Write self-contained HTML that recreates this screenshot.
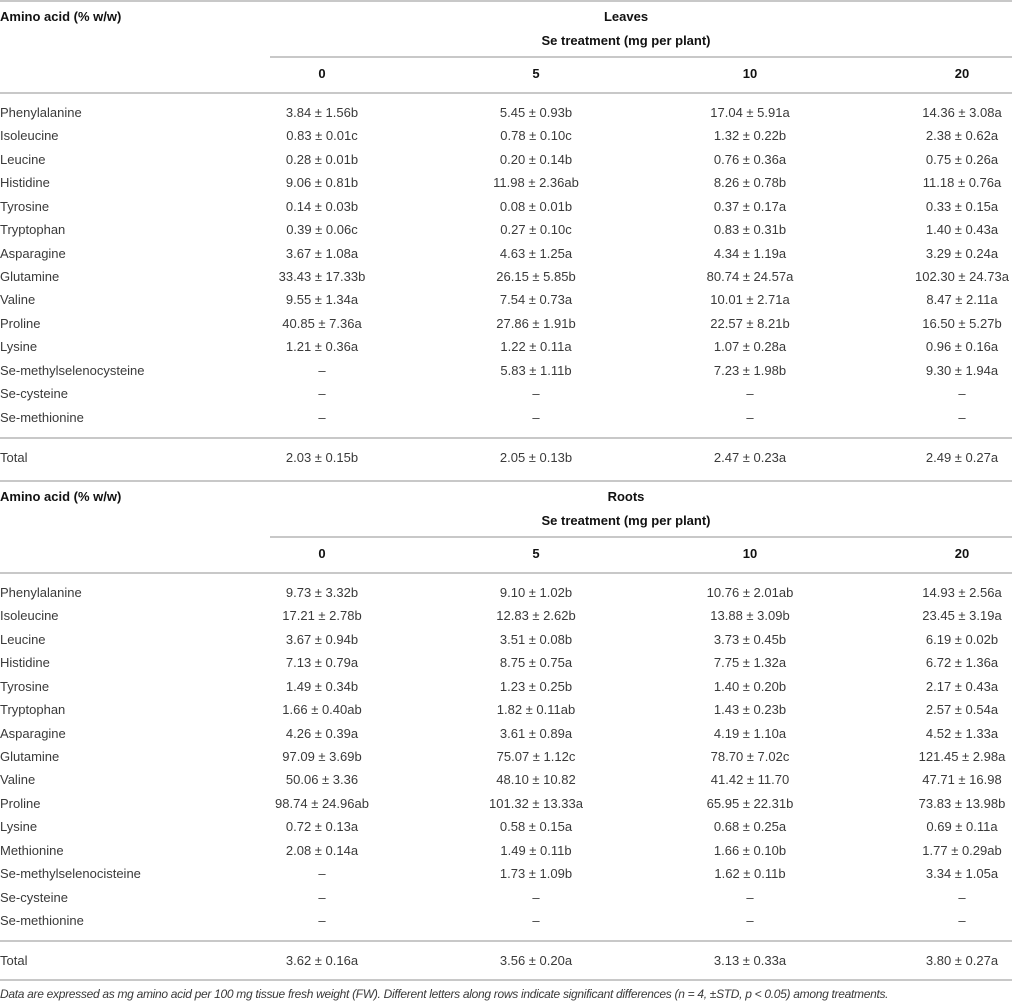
<!DOCTYPE html>
<html><head><meta charset="utf-8"><style>
body{margin:0;background:#fff;}
#t{position:relative;width:1012px;height:1003px;overflow:hidden;font-family:"Liberation Sans",sans-serif;font-size:13px;color:#3a3a3a;}
.x{position:absolute;white-space:nowrap;line-height:16px;}
.b{font-weight:bold;color:#111;}
.c{transform:translateX(-50%);}
.ln{position:absolute;height:2px;background:#c8c8c8;}
.fn{font-style:italic;font-size:12px;letter-spacing:-0.3px;}
</style></head><body>
<div id="t"></div>
<script>
const colHeaders=["0","5","10","20"];
const leavesRows=["Phenylalanine","Isoleucine","Leucine","Histidine","Tyrosine","Tryptophan","Asparagine","Glutamine","Valine","Proline","Lysine","Se-methylselenocysteine","Se-cysteine","Se-methionine"];
const leaves0=["3.84 ± 1.56b","0.83 ± 0.01c","0.28 ± 0.01b","9.06 ± 0.81b","0.14 ± 0.03b","0.39 ± 0.06c","3.67 ± 1.08a","33.43 ± 17.33b","9.55 ± 1.34a","40.85 ± 7.36a","1.21 ± 0.36a","–","–","–"];
const leaves5=["5.45 ± 0.93b","0.78 ± 0.10c","0.20 ± 0.14b","11.98 ± 2.36ab","0.08 ± 0.01b","0.27 ± 0.10c","4.63 ± 1.25a","26.15 ± 5.85b","7.54 ± 0.73a","27.86 ± 1.91b","1.22 ± 0.11a","5.83 ± 1.11b","–","–"];
const leaves10=["17.04 ± 5.91a","1.32 ± 0.22b","0.76 ± 0.36a","8.26 ± 0.78b","0.37 ± 0.17a","0.83 ± 0.31b","4.34 ± 1.19a","80.74 ± 24.57a","10.01 ± 2.71a","22.57 ± 8.21b","1.07 ± 0.28a","7.23 ± 1.98b","–","–"];
const leaves20=["14.36 ± 3.08a","2.38 ± 0.62a","0.75 ± 0.26a","11.18 ± 0.76a","0.33 ± 0.15a","1.40 ± 0.43a","3.29 ± 0.24a","102.30 ± 24.73a","8.47 ± 2.11a","16.50 ± 5.27b","0.96 ± 0.16a","9.30 ± 1.94a","–","–"];
const leavesTotal=["2.03 ± 0.15b","2.05 ± 0.13b","2.47 ± 0.23a","2.49 ± 0.27a"];
const rootsRows=["Phenylalanine","Isoleucine","Leucine","Histidine","Tyrosine","Tryptophan","Asparagine","Glutamine","Valine","Proline","Lysine","Methionine","Se-methylselenocisteine","Se-cysteine","Se-methionine"];
const roots0=["9.73 ± 3.32b","17.21 ± 2.78b","3.67 ± 0.94b","7.13 ± 0.79a","1.49 ± 0.34b","1.66 ± 0.40ab","4.26 ± 0.39a","97.09 ± 3.69b","50.06 ± 3.36","98.74 ± 24.96ab","0.72 ± 0.13a","2.08 ± 0.14a","–","–","–"];
const roots5=["9.10 ± 1.02b","12.83 ± 2.62b","3.51 ± 0.08b","8.75 ± 0.75a","1.23 ± 0.25b","1.82 ± 0.11ab","3.61 ± 0.89a","75.07 ± 1.12c","48.10 ± 10.82","101.32 ± 13.33a","0.58 ± 0.15a","1.49 ± 0.11b","1.73 ± 1.09b","–","–"];
const roots10=["10.76 ± 2.01ab","13.88 ± 3.09b","3.73 ± 0.45b","7.75 ± 1.32a","1.40 ± 0.20b","1.43 ± 0.23b","4.19 ± 1.10a","78.70 ± 7.02c","41.42 ± 11.70","65.95 ± 22.31b","0.68 ± 0.25a","1.66 ± 0.10b","1.62 ± 0.11b","–","–"];
const roots20=["14.93 ± 2.56a","23.45 ± 3.19a","6.19 ± 0.02b","6.72 ± 1.36a","2.17 ± 0.43a","2.57 ± 0.54a","4.52 ± 1.33a","121.45 ± 2.98a","47.71 ± 16.98","73.83 ± 13.98b","0.69 ± 0.11a","1.77 ± 0.29ab","3.34 ± 1.05a","–","–"];
const rootsTotal=["3.62 ± 0.16a","3.56 ± 0.20a","3.13 ± 0.33a","3.80 ± 0.27a"];

const T=document.getElementById('t');
const colX=[322,536,750,962];
function txt(s,x,y,cls,name){
  const d=document.createElement('div');
  d.className='x '+cls;
  d.style.left=x+'px';d.style.top=(y-8)+'px';
  d.textContent=s;
  
  
  T.appendChild(d);
}
function line(x,y,w,name){
  const d=document.createElement('div');
  d.className='ln';d.style.left=x+'px';d.style.top=(y-1)+'px';d.style.width=w+'px';
  
  
  T.appendChild(d);
}
function section(top,title,rows,cols,total,prefix){
  line(0,top-16,1012,prefix+'-top-rule');
  txt('Amino acid (% w/w)',0,top,'b',prefix+'-row-header');
  txt(title,626,top,'b c',prefix+'-title');
  txt('Se treatment (mg per plant)',626,top+24,'b c',prefix+'-treatment-header');
  line(270,top+40,742,prefix+'-subheader-rule');
  colHeaders.forEach((h,i)=>txt(h,colX[i],top+57,'b c',prefix+'-col-header'));
  line(0,top+76,1012,prefix+'-header-rule');
  const step=23.43;
  rows.forEach((r,j)=>{
    const y=top+96+j*step;
    txt(r,0,y,'',prefix+'-row-label');
    cols.forEach((c,i)=>txt(c[j],colX[i],y,'c',prefix+'-cell'));
  });
  const lastY=top+96+(rows.length-1)*step;
  line(0,lastY+20,1012,prefix+'-total-rule');
  txt('Total',0,lastY+40,'',prefix+'-total-label');
  total.forEach((v,i)=>txt(v,colX[i],lastY+40,'c',prefix+'-total-cell'));
  return lastY+59;
}
const end1=section(17,'Leaves',leavesRows,[leaves0,leaves5,leaves10,leaves20],leavesTotal,'leaves');
const end2=section(497,'Roots',rootsRows,[roots0,roots5,roots10,roots20],rootsTotal,'roots');
line(0,end2,1012,'bottom-rule');
txt('Data are expressed as mg amino acid per 100 mg tissue fresh weight (FW). Different letters along rows indicate significant differences (n = 4, ±STD, p < 0.05) among treatments.',0,end2+14,'fn','footnote');
</script>
</body></html>
